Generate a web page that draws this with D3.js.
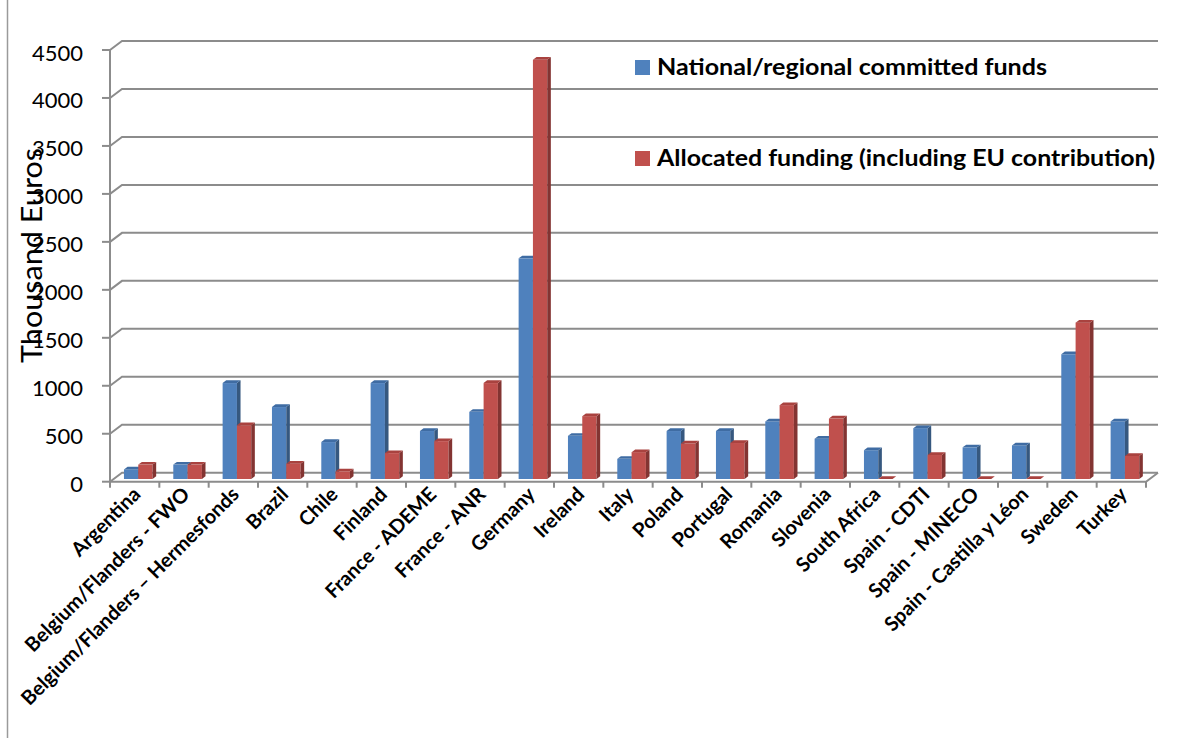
<!DOCTYPE html>
<html>
<head>
<meta charset="utf-8">
<script src="https://cdn.jsdelivr.net/npm/d3@7"></script>
<style>
  html, body { margin: 0; padding: 0; background: #fff; }
  svg { display: block; }
</style>
</head>
<body>
<svg id="chart" width="1178" height="738"></svg>
<script>
// Funding per partner organisation, in thousand euros
const categories = [
  "Argentina", "Belgium/Flanders - FWO", "Belgium/Flanders \u2013 Hermesfonds", "Brazil", "Chile",
  "Finland", "France - ADEME", "France - ANR", "Germany", "Ireland", "Italy", "Poland",
  "Portugal", "Romania", "Slovenia", "South Africa", "Spain - CDTI", "Spain - MINECO",
  "Spain - Castilla y L\u00e9on", "Sweden", "Turkey"
];
const nationalFunds = [100, 150, 1000, 750, 385, 1000, 500, 700, 2300, 450, 210, 500, 500, 600, 420, 300, 530, 330, 350, 1300, 600];
const allocatedFunds = [150, 150, 560, 160, 80, 270, 395, 1000, 4370, 655, 280, 370, 375, 770, 630, 0, 250, 0, 0, 1630, 240];
const seriesNames = ["National/regional committed funds", "Allocated funding (including EU contribution)"];
const yTicks = [0, 500, 1000, 1500, 2000, 2500, 3000, 3500, 4000, 4500];

const svg = d3.select("#chart");
const font = "Lato, 'Open Sans', 'Liberation Sans', sans-serif";
const gridColor = "#8c8c8c";

// front plane of the 3-D plot box
const left = 110, right = 1146;
const y = d3.scaleLinear().domain([0, 4500]).range([481.7, 50]);
const x = d3.scaleBand().domain(categories).range([left, right]).padding(0);

// depth of the box (back wall offset)
const depth = { dx: 12, dy: -9 };
// bars sit 30% into the box and take 30% of its depth
const barOff = { dx: depth.dx * 0.3, dy: depth.dy * 0.3 };
const barDepth = { dx: depth.dx * 0.3, dy: depth.dy * 0.3 };

const palette = [
  { front: "#4f81bd", side: "#36587f", top: "#3f6ca3" },
  { front: "#c0504d", side: "#833432", top: "#a9423f" }
];

// chart area border
svg.append("line")
  .attr("x1", 7.5).attr("x2", 7.5).attr("y1", 0).attr("y2", 738)
  .attr("stroke", "#9a9a9a").attr("stroke-width", 1.5);

// back wall gridlines + their connectors to the value axis
const grid = svg.append("g").attr("fill", "none").attr("stroke", gridColor).attr("stroke-width", 2);
yTicks.forEach(v => {
  const yf = y(v);
  grid.append("path")
    .attr("d", `M${left},${yf}L${left + depth.dx},${yf + depth.dy}L${right + depth.dx},${yf + depth.dy}`);
});
// floor front edge and right edge
grid.append("path")
  .attr("d", `M${left},${y(0)}L${right},${y(0)}L${right + depth.dx},${y(0) + depth.dy}`);

// value axis line and ticks
const axisG = svg.append("g").attr("stroke", gridColor).attr("stroke-width", 2);
axisG.append("line").attr("x1", left).attr("x2", left).attr("y1", y(4500)).attr("y2", y(0) + 5);
yTicks.forEach(v => {
  axisG.append("line").attr("x1", left - 8).attr("x2", left).attr("y1", y(v)).attr("y2", y(v));
});
// category axis ticks
d3.range(categories.length + 1).forEach(i => {
  const xx = left + i * x.step();
  axisG.append("line").attr("x1", xx).attr("x2", xx).attr("y1", y(0)).attr("y2", y(0) + 6);
});

// value tick labels
svg.append("g").selectAll("text").data(yTicks).join("text")
  .attr("x", 83).attr("y", d => y(d) + 2)
  .attr("text-anchor", "end").attr("dominant-baseline", "central")
  .attr("font-family", font).attr("font-size", 22).attr("fill", "#000")
  .text(d => d);

// value axis title
svg.append("text")
  .attr("transform", "translate(42,255.5) rotate(-90)")
  .attr("text-anchor", "middle")
  .attr("font-family", font).attr("font-size", 28).attr("fill", "#000")
  .attr("textLength", 215).attr("lengthAdjust", "spacingAndGlyphs")
  .text("Thousand Euros");

// 3-D columns
const barW = x.bandwidth() * 0.29;
const yb = v => y(v) + barOff.dy;
const bars = svg.append("g");
categories.forEach((c, i) => {
  [nationalFunds[i], allocatedFunds[i]].forEach((v, s) => {
    const x0 = x(c) + barOff.dx + (x.bandwidth() - 2 * barW) / 2 + s * barW;
    const x1 = x0 + barW;
    const top = yb(v), base = yb(0);
    const col = palette[s];
    const g = bars.append("g");
    g.append("rect").attr("x", x0).attr("y", top).attr("width", barW).attr("height", base - top)
      .attr("fill", col.front);
    g.append("polygon")
      .attr("points", [[x1, base], [x1 + barDepth.dx, base + barDepth.dy], [x1 + barDepth.dx, top + barDepth.dy], [x1, top]].join(" "))
      .attr("fill", col.side);
    g.append("polygon")
      .attr("points", [[x0, top], [x0 + barDepth.dx, top + barDepth.dy], [x1 + barDepth.dx, top + barDepth.dy], [x1, top]].join(" "))
      .attr("fill", col.top);
  });
});

// category labels, rotated 45 degrees
svg.append("g").selectAll("text").data(categories).join("text")
  .attr("transform", d => `translate(${x(d) + x.bandwidth() / 2 + 2},${y(0) + 9}) rotate(-45)`)
  .attr("text-anchor", "end").attr("dy", "0.35em")
  .attr("font-family", font).attr("font-weight", 700).attr("font-size", 20).attr("fill", "#000")
  .text(d => d);

// legend
const legendRows = [
  { name: seriesNames[0], color: palette[0].front, y: 60, width: 390 },
  { name: seriesNames[1], color: palette[1].front, y: 151, width: 498 }
];
const lg = svg.append("g");
legendRows.forEach(r => {
  lg.append("rect").attr("x", 635).attr("y", r.y).attr("width", 15).attr("height", 15).attr("fill", r.color);
  lg.append("text").attr("x", 657).attr("y", r.y + 15)
    .attr("font-family", font).attr("font-weight", 700).attr("font-size", 23).attr("fill", "#000")
    .attr("textLength", r.width).attr("lengthAdjust", "spacingAndGlyphs")
    .text(r.name);
});
</script>
</body>
</html>
